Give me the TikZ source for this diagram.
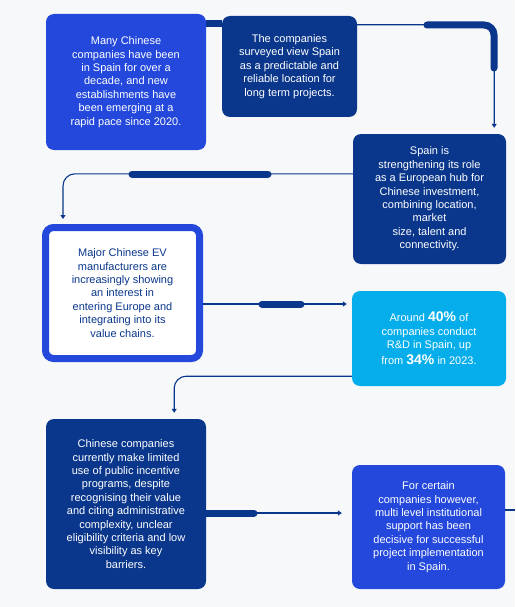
\documentclass[tikz,border=0pt]{standalone}
\usepackage{fontspec}
\setmainfont{Liberation Sans}
\usepackage{tikz}
\usetikzlibrary{arrows.meta}

\definecolor{hubnavy}{HTML}{0A378C}
\definecolor{hubblue}{HTML}{2348DB}
\definecolor{hubcyan}{HTML}{05AEEB}
\definecolor{hubpaper}{HTML}{F7F8FA}

\tikzset{
	card/.style = {rounded corners=8pt, align=center, inner sep=0pt, text=white,
		font=\fontsize{11}{13.4}\selectfont},
	link/.style = {draw=hubnavy, line width=1.1pt, -{Triangle[length=4pt,width=5pt]}},
	bar/.style = {draw=hubnavy, line width=7pt, line cap=round},
}
\newcommand{\bignum}[1]{{\fontsize{14}{13.4}\selectfont\bfseries #1}}

\begin{document}
\begin{tikzpicture}[x=1pt, y=-1pt]
	\fill[hubpaper] (0,0) rectangle (515,607);
	\useasboundingbox (0,0) rectangle (515,607);
	\begin{scope}[every node/.style = {card, fill=hubblue}]
		\node[minimum width=160pt, minimum height=136pt] (many) at (126,82)
			{Many Chinese\\companies have been\\in Spain for over a\\decade, and new\\establishments have\\been emerging at a\\rapid pace since 2020.};
		\node[minimum width=153pt, minimum height=124pt] (support) at (428.5,527)
			{For certain\\companies however,\\multi level institutional\\support has been\\decisive for successful\\project implementation\\in Spain.};
	\end{scope}
	\begin{scope}[every node/.style = {card, fill=hubnavy}]
		\node[minimum width=135pt, minimum height=101pt] (survey) at (289.5,66.5)
			{The companies\\surveyed view Spain\\as a predictable and\\reliable location for\\long term projects.};
		\node[minimum width=153pt, minimum height=130pt] (hub) at (429.5,199)
			{Spain is\\strengthening its role\\as a European hub for\\Chinese investment,\\combining location,\\market\\size, talent and\\connectivity.};
		\node[minimum width=160pt, minimum height=170pt] (incent) at (126,504)
			{Chinese companies\\currently make limited\\use of public incentive\\programs, despite\\recognising their value\\and citing administrative\\complexity, unclear\\eligibility criteria and low\\visibility as key\\barriers.};
	\end{scope}
	\begin{scope}[every node/.style = {card, fill=hubcyan}]
		\node[minimum width=154pt, minimum height=95pt] (rnd) at (429,338.5)
			{Around \bignum{40\%} of\\companies conduct\\R\&D in Spain, up\\[3pt]from \bignum{34\%} in 2023.};
	\end{scope}
	\begin{scope}[every node/.style = {card, fill=white, draw=hubblue, line width=7pt, text=hubnavy}]
		\node[minimum width=154pt, minimum height=131pt] (ev) at (122.5,293)
			{Major Chinese EV\\manufacturers are\\increasingly showing\\an interest in\\entering Europe and\\integrating into its\\value chains.};
	\end{scope}
	% bar ends
	\coordinate (k2a) at (427,25);
	\coordinate (k2b) at (494,68);
	\coordinate (k3a) at (132,174);
	\coordinate (k3b) at (268,174);
	\coordinate (k4a) at (262,304);
	\coordinate (k4b) at (301,304);
	\coordinate (k6b) at (254,513);
	\coordinate (exit) at (515,510);
	% connectors
	\draw[bar, line cap=butt] ([yshift=-10pt]many.north east) -- ([yshift=-8pt]survey.north west);
	\draw[link, rounded corners=10pt, shorten >=6pt] ([yshift=-9pt]survey.north east) -| ([xshift=-12pt]hub.north east);
	\draw[bar, rounded corners=10pt] (k2a) -| (k2b);
	\draw[link, rounded corners=12pt, shorten >=5pt] ([yshift=-40pt]hub.north west) -| ([xshift=21pt]ev.north west);
	\draw[bar] (k3a) -- (k3b);
	\draw[link, shorten >=5pt] ([yshift=-11pt]ev.east) -- ([yshift=-11pt]ev.east -| rnd.west);
	\draw[bar] (k4a) -- (k4b);
	\draw[link, rounded corners=12pt, shorten >=6pt] ([yshift=10pt]rnd.south west) -| ([xshift=-32pt]incent.north east);
	\draw[link, shorten >=10pt] ([yshift=-9pt]incent.east) -- ([yshift=-9pt]incent.east -| support.west);
	\draw[bar] ([yshift=-9pt]incent.east) -- (k6b);
	\draw[link, -] ([yshift=17pt]support.east) -- (exit);
\end{tikzpicture}
\end{document}
